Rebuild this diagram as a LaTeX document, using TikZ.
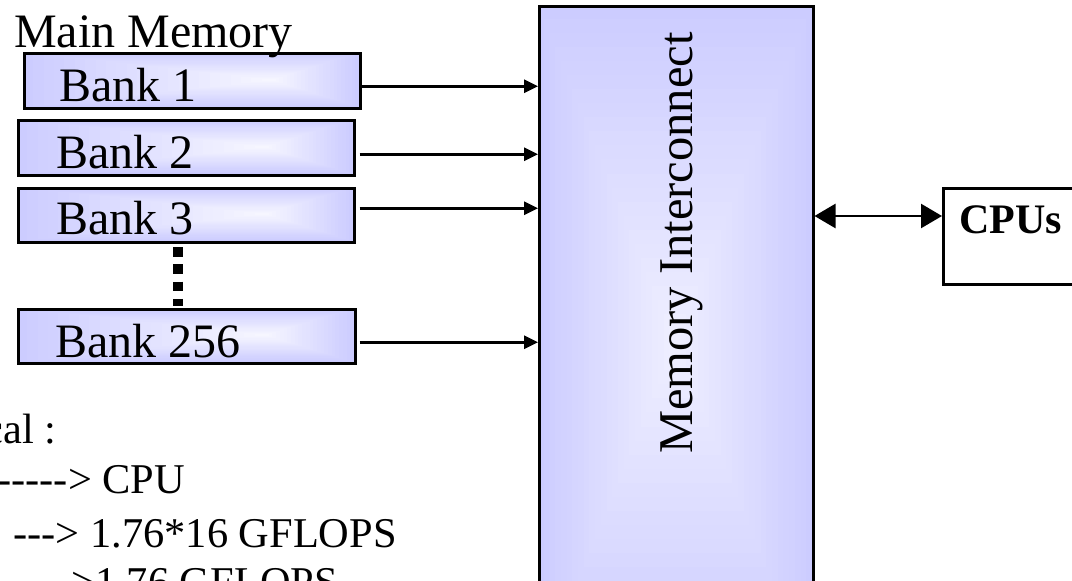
\documentclass[tikz,border=0pt]{standalone}
\usepackage{fontspec}
\setmainfont{Liberation Serif}
\usetikzlibrary{arrows.meta,calc}

\definecolor{lav}{HTML}{CCCCFF}

% hyphen that never joins into an en/em dash
\newcommand\hy{-\kern0pt }

% rectangular "from centre" gradient: x0,y0,x1,y1,cx,cy,max white %
\newcommand\gradfill[7]{%
  \foreach \i in {0,...,23}{%
    \pgfmathsetmacro\t{\i/24}%
    \pgfmathsetmacro\w{\t*#7}%
    \fill[white!\w!lav] ({#1+\t*(#5-#1)},{#2+\t*(#6-#2)}) rectangle ({#3-\t*(#3-#5)},{#4-\t*(#4-#6)});
  }}

\tikzset{
  box/.style={draw=black, line width=2.5pt, inner sep=0pt, anchor=north west},
  feed/.style={line width=2.8pt, -{Triangle[length=14pt,width=13pt]}},
  link/.style={line width=2.5pt, {Triangle[length=21pt,width=24pt]}-{Triangle[length=21pt,width=24pt]}},
  dotsline/.style={line width=10pt, dash pattern=on 9.5pt off 7.8pt},
  big/.style={font=\fontsize{48}{58}\selectfont},
  note/.style={font=\fontsize{42.4}{50}\selectfont, anchor=base west, inner sep=0pt},
  lbl/.style={big, anchor=base west, inner sep=0pt},
}

\begin{document}
\begin{tikzpicture}[x=1pt,y=-1pt]
\useasboundingbox (0,0) rectangle (1072,581);
\clip (0,0) rectangle (1072,581);

% shaded fills
\gradfill{23}{52}{359}{107}{272}{80}{85}
\gradfill{17}{119}{353}{174}{265}{147}{85}
\gradfill{17}{187}{353}{241}{265}{214}{85}
\gradfill{17}{308}{354}{362}{265}{335}{85}
\gradfill{538}{5}{812}{680}{675}{342}{70}

% memory banks
\node[box, minimum width=336pt, minimum height=55pt] (b1) at (23,52) {};
\node[box, minimum width=336pt, minimum height=55pt] (b2) at (17,119) {};
\node[box, minimum width=336pt, minimum height=54pt] (b3) at (17,187) {};
\node[box, minimum width=337pt, minimum height=54pt] (b4) at (17,308) {};

\node[lbl] (mm) at (14,47) {Main Memory};
\node[lbl] (l1) at (59,101) {Bank 1};
\node[lbl] (l2) at (56,168) {Bank 2};
\node[lbl] (l3) at (56,234) {Bank 3};
\node[lbl] (l4) at (55,357) {Bank 256};

% elided banks
\coordinate (d1) at (178,247);
\coordinate (d2) at (178,306);
\draw[dotsline] (d1) -- (d2);

% interconnect
\node[box, minimum width=274pt, minimum height=675pt] (ic) at (538,5) {};
\node[rotate=90, anchor=base west, inner sep=0pt, font=\fontsize{48.5}{58}\selectfont] (icl) at (692,454) {Memory Interconnect};

% bank links
\coordinate (s1) at ($(b1.east)+(0,5.5)$);
\coordinate (s2) at ($(b2.east)+(4,6.5)$);
\coordinate (s3) at ($(b3.east)+(4,-7)$);
\coordinate (s4) at ($(b4.east)+(3,6)$);
\draw[feed] (s1) -- (s1 -| ic.west);
\draw[feed] (s2) -- (s2 -| ic.west);
\draw[feed] (s3) -- (s3 -| ic.west);
\draw[feed] (s4) -- (s4 -| ic.west);

% processors
\node[box, minimum width=200pt, minimum height=96pt] (cpu) at (942,187) {};
\node[anchor=base west, inner sep=0pt, font=\fontsize{42}{50}\selectfont\bfseries] (cpul) at (959,233) {CPUs};
\coordinate (lvl) at (0,216);
\draw[link] (ic.east |- lvl) -- (cpu.west |- lvl);

% peak figures
\node[note] (t1) at (-15.8,443) {cal :};
\node[note] (t2) at (-16.8,493) {\hy\hy\hy\hy\hy\hy> CPU};
\node[note] (t3) at (13.4,547) {\hy\hy\hy> 1.76*16 GFLOPS};
\node[note] (t4) at (71,596) {>1.76 GFLOPS};
\end{tikzpicture}
\end{document}
